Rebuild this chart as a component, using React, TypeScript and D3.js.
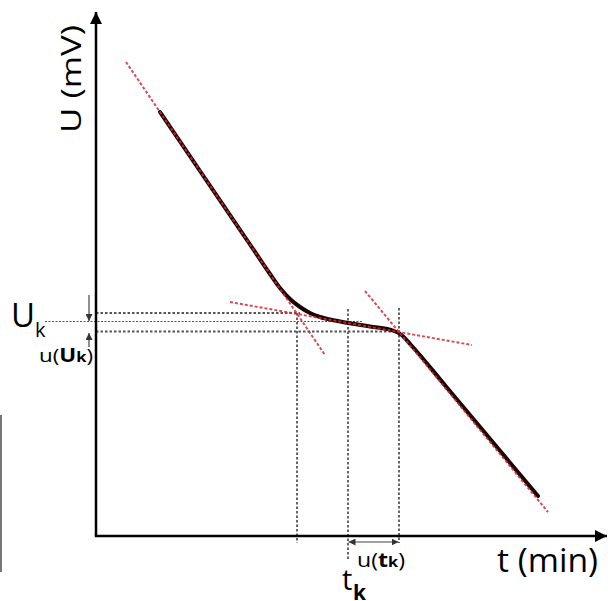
import React from "react";
import * as d3 from "d3";

// measured curve U(t), arbitrary units
const curveT = [1.28, 2.08, 3.08, 3.48, 3.68, 3.88, 4.08, 4.28, 4.48, 4.78, 5.48, 5.96, 6.1, 6.3, 7.0, 8.0, 8.84];
const curveU = [8.48, 7.3, 5.83, 5.24, 4.96, 4.74, 4.58, 4.46, 4.38, 4.31, 4.19, 4.1, 4.03, 3.82, 2.99, 1.8, 0.8];

// red dashed tangents: [t0, U0, t1, U1]
const tangents = [
  [0.6, 9.48, 4.58, 3.62],
  [2.68, 4.68, 7.52, 3.82],
  [5.38, 4.9, 9.04, 0.48],
];

// gray dotted guides
const hGuides = [
  { u: 4.46, t0: 0, t1: 4.08, fine: false },
  { u: 4.29, t0: -1.02, t1: 5.34, fine: true },
  { u: 4.09, t0: 0, t1: 6.08, fine: false },
];
const vGuides = [
  { t: 4.02, u0: 4.46, u1: -0.14 },
  { t: 5.04, u0: 4.54, u1: -0.48 },
  { t: 6.06, u0: 4.56, u1: -0.14 },
];

const axisMaxT = 10.22;
const axisMaxU = 10.48;

const W = 608;
const H = 601;

const App = () => {
  const x = d3.scaleLinear().domain([0, 10]).range([96, 596]);
  const y = d3.scaleLinear().domain([0, 10]).range([536, 36]);

  const line = d3
    .line<number>()
    .x((d, i) => x(curveT[i]))
    .y((d) => y(d))
    .curve(d3.curveMonotoneX);

  const font = "'Open Sans', 'Liberation Sans', sans-serif";
  const gray = "#555";

  return (
    <svg width={W} height={H} style={{ position: "absolute", left: 0, top: 0, background: "white" }}>
      <defs>
        <marker id="axisHead" viewBox="0 0 12 12" refX="12" refY="6" markerWidth="12" markerHeight="12" markerUnits="userSpaceOnUse" orient="auto">
          <path d="M0,0 L12,6 L0,12 Z" fill="black" />
        </marker>
        <marker id="smallHead" viewBox="0 0 8 8" refX="8" refY="4" markerWidth="7" markerHeight="7" markerUnits="userSpaceOnUse" orient="auto-start-reverse">
          <path d="M0,0 L8,4 L0,8 Z" fill="#333" />
        </marker>
      </defs>

      {/* stray edge line */}
      <line x1={1} x2={1} y1={415} y2={572} stroke="#777" strokeWidth={2} />

      {/* guides */}
      {hGuides.map((g, i) => (
        <line key={"h" + i} x1={x(g.t0)} x2={x(g.t1)} y1={y(g.u)} y2={y(g.u)}
          stroke={gray} strokeWidth={g.fine ? 1 : 1.8} strokeDasharray={g.fine ? "2,1.5" : "2.5,2"} />
      ))}
      {vGuides.map((g, i) => (
        <line key={"v" + i} x1={x(g.t)} x2={x(g.t)} y1={y(g.u0)} y2={y(g.u1)}
          stroke={gray} strokeWidth={1.8} strokeDasharray="2.5,2" />
      ))}

      {/* axes */}
      <line x1={x(0)} y1={y(0)} x2={x(0)} y2={y(axisMaxU)} stroke="black" strokeWidth={2.5} markerEnd="url(#axisHead)" />
      <line x1={x(0) - 1.2} y1={y(0)} x2={x(axisMaxT)} y2={y(0)} stroke="black" strokeWidth={2.5} markerEnd="url(#axisHead)" />

      {/* curve */}
      <path d={line(curveU) || ""} fill="none" stroke="#1a0505" strokeWidth={4} strokeLinecap="round" />
      {tangents.map((s, i) => (
        <line key={"t" + i} x1={x(s[0])} y1={y(s[1])} x2={x(s[2])} y2={y(s[3])}
          stroke="#d42a35" strokeWidth={2} strokeDasharray="3,2" opacity={0.85} />
      ))}

      {/* uncertainty arrows */}
      <line x1={x(-0.14)} x2={x(-0.14)} y1={y(4.82)} y2={y(4.3)} stroke="#444" strokeWidth={1.2} markerEnd="url(#smallHead)" />
      <line x1={x(-0.14)} x2={x(-0.14)} y1={y(3.78)} y2={y(4.06)} stroke="#444" strokeWidth={1.2} markerEnd="url(#smallHead)" />
      <line x1={x(5.05)} x2={x(6.05)} y1={y(-0.12)} y2={y(-0.12)} stroke="#444" strokeWidth={1.2}
        markerStart="url(#smallHead)" markerEnd="url(#smallHead)" />

      {/* labels */}
      <text transform={`translate(81,${133}) rotate(-90)`} fontFamily={font} fontSize={28} textLength={108} lengthAdjust="spacingAndGlyphs">U (mV)</text>
      <text x={497} y={572} fontFamily={font} fontSize={32} textLength={101} lengthAdjust="spacingAndGlyphs">t (min)</text>

      <text x={11} y={327} fontFamily={font} fontSize={33}>U</text>
      <text x={35} y={337} fontFamily={font} fontSize={20}>k</text>
      <text x={39} y={362} fontFamily={font} fontSize={19} textLength={54} lengthAdjust="spacingAndGlyphs">
        u(<tspan fontWeight="bold">U</tspan><tspan fontWeight="bold" fontSize={14}>k</tspan>)
      </text>

      <text x={357} y={567} fontFamily={font} fontSize={20} textLength={48} lengthAdjust="spacingAndGlyphs">
        u(<tspan fontWeight="bold">t</tspan><tspan fontWeight="bold" fontSize={14}>k</tspan>)
      </text>
      <text x={342} y={590} fontFamily={font} fontSize={29}>t</text>
      <text x={353} y={600} fontFamily={font} fontSize={21} fontWeight="bold">k</text>
    </svg>
  );
};

export default App;
